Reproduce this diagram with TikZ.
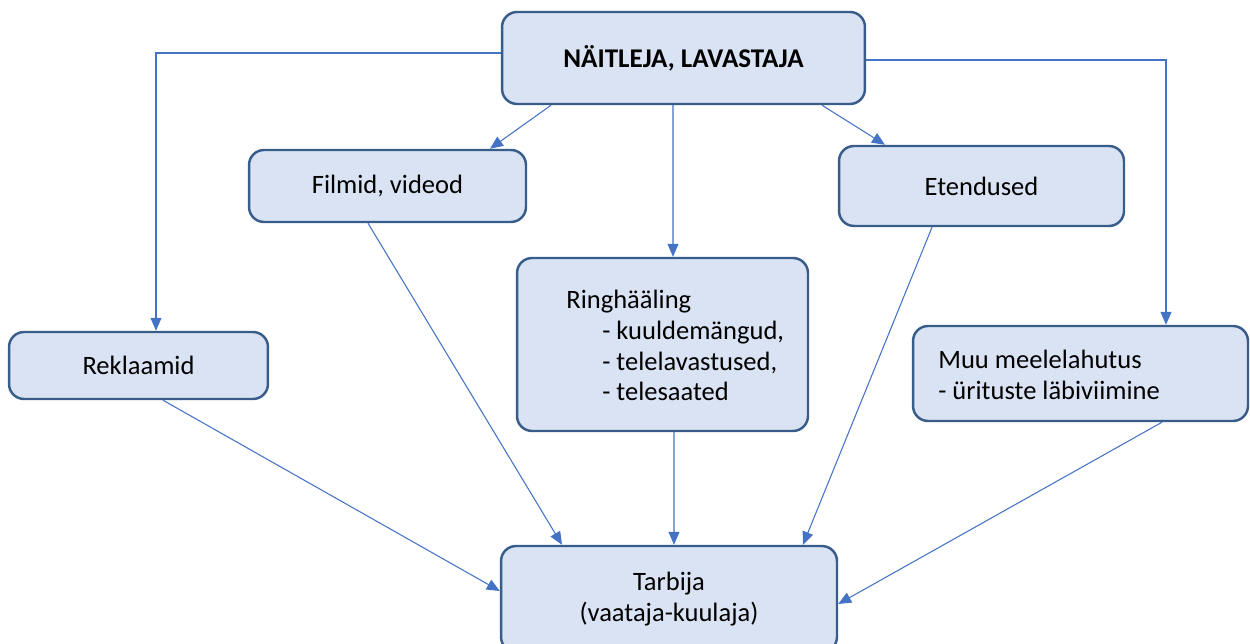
\documentclass[tikz,border=0pt]{standalone}
\usepackage{fontspec}
\setmainfont{Carlito}
\usetikzlibrary{arrows.meta}
\definecolor{boxfill}{HTML}{DAE3F3}
\definecolor{boxline}{HTML}{385D8A}
\definecolor{conncol}{HTML}{4472C4}
\tikzset{
  box/.style={draw=boxline, fill=boxfill, line width=1.4pt, rounded corners=0.3cm, inner sep=0pt},
  txt/.style={font=\fontsize{15.1}{17.6}\selectfont, inner sep=0pt},
  conn/.style={draw=conncol, line width=0.6pt, -{Triangle[length=0.26cm,width=0.22cm]}}
}
\begin{document}
\begin{tikzpicture}[x=0.02cm,y=-0.02cm]
\useasboundingbox (0,0) rectangle (1250,644);
\clip (0,0) rectangle (1250,644);
\node[box, minimum width=7.26cm, minimum height=1.84cm, txt] (top) at (683.5,58) {\fontsize{15.4}{17.6}\selectfont\bfseries NÄITLEJA, LAVASTAJA};
\node[box, minimum width=5.54cm, minimum height=1.44cm, txt] (film) at (387.5,186) {Filmid, videod};
\node[box, minimum width=5.70cm, minimum height=1.60cm, txt] (eten) at (981.5,186) {Etendused};
\node[box, minimum width=5.82cm, minimum height=3.46cm] (ring) at (662.5,344.5) {};
\node[box, minimum width=5.18cm, minimum height=1.34cm, txt] (rek) at (138.5,365.5) {Reklaamid};
\node[box, minimum width=6.70cm, minimum height=1.90cm] (muu) at (1080.5,373.5) {};
\node[box, minimum width=6.72cm, minimum height=2.12cm, txt, align=center] (tarb) at (669,599) {Tarbija\\(vaataja-kuulaja)};
\node[txt, anchor=west, align=left] (ringtxt) at (566,345.5) {Ringhääling\\\hspace*{0.72cm}- kuuldemängud,\\\hspace*{0.72cm}- telelavastused,\\\hspace*{0.72cm}- telesaated};
\node[txt, anchor=west, align=left] (muutxt) at (938,375) {Muu meelelahutus\\- ürituste läbiviimine};
\draw[conn] ([yshift=0.1cm]top.west) -| ([xshift=0.35cm]rek.north);
\draw[conn] ([yshift=-0.04cm]top.east) -| ([xshift=1.71cm]muu.north);
\draw[conn] ([xshift=-2.65cm]top.south) -- ([xshift=2.05cm]film.north);
\draw[conn] ([xshift=-0.21cm]top.south) -- ([xshift=0.21cm]ring.north);
\draw[conn] ([xshift=2.77cm]top.south) -- ([xshift=-1.93cm]eten.north);
\draw[conn] ([xshift=-0.39cm]film.south) -- ([xshift=-2.14cm]tarb.north);
\draw[conn] ([xshift=-0.99cm]eten.south) -- ([xshift=2.68cm]tarb.north);
\draw[conn] ([xshift=0.23cm]ring.south) -- ([xshift=0.10cm]tarb.north);
\draw[conn] ([xshift=0.49cm]rek.south) -- ([yshift=0.16cm]tarb.west);
\draw[conn] ([xshift=1.63cm]muu.south) -- ([yshift=-0.1cm]tarb.east);
\end{tikzpicture}
\end{document}
